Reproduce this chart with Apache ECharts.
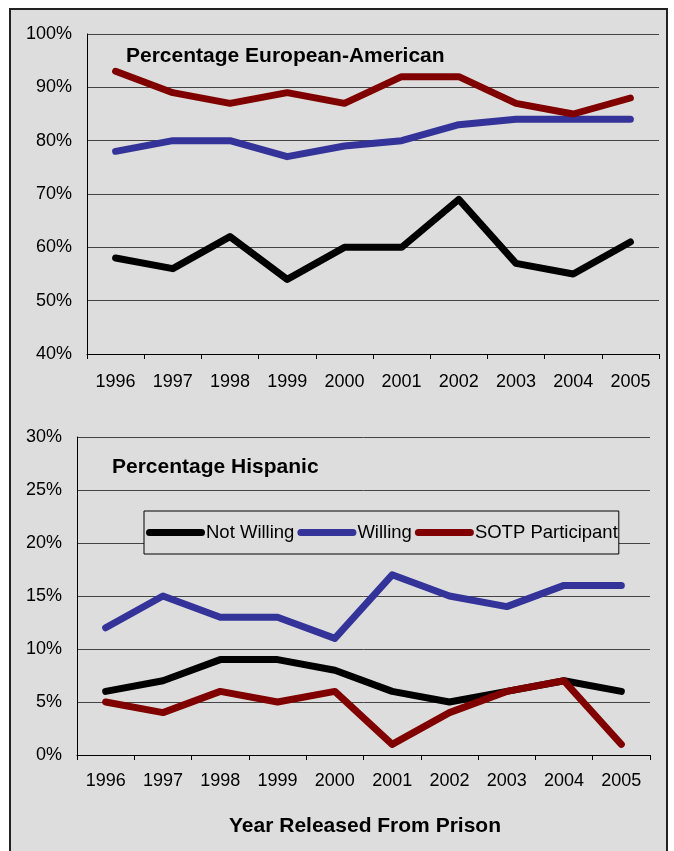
<!DOCTYPE html>
<html>
<head>
<meta charset="utf-8">
<script src="https://cdn.jsdelivr.net/npm/echarts@6/dist/echarts.min.js"></script>
<style>
  html, body { margin: 0; padding: 0; background: #ffffff; }
  #chart { width: 674px; height: 851px; }
</style>
</head>
<body>
<div id="chart"></div>
<script>
// Release years shared by both panels
const years = ['1996', '1997', '1998', '1999', '2000', '2001', '2002', '2003', '2004', '2005'];

// Percentage European-American, by group
const euroNotWilling = [58, 56, 62, 54, 60, 60, 69, 57, 55, 61];
const euroWilling    = [78, 80, 80, 77, 79, 80, 83, 84, 84, 84];
const euroSotp       = [93, 89, 87, 89, 87, 92, 92, 87, 85, 88];

// Percentage Hispanic, by group
const hispNotWilling = [6, 7, 9, 9, 8, 6, 5, 6, 7, 6];
const hispWilling    = [12, 15, 13, 13, 11, 17, 15, 14, 16, 16];
const hispSotp       = [5, 4, 6, 5, 6, 1, 4, 6, 7, 1];

const groupNames = ['Not Willing', 'Willing', 'SOTP Participant'];
const groupColors = ['#000000', '#333399', '#800000'];

const FONT = 'Liberation Sans, Arial, sans-serif';

const chart = echarts.init(document.getElementById('chart'), null, { renderer: 'canvas' });

function xAxisFor(gridIndex, margin) {
  return {
    type: 'category',
    gridIndex: gridIndex,
    data: years,
    boundaryGap: true,
    axisLine: { show: true, lineStyle: { color: '#000', width: 1 } },
    axisTick: { show: true, alignWithLabel: false, length: 5, lineStyle: { color: '#000' } },
    axisLabel: { color: '#000', fontFamily: FONT, fontSize: 18, margin: margin },
    splitLine: { show: false }
  };
}

function yAxisFor(gridIndex, min, max, interval) {
  return {
    type: 'value',
    gridIndex: gridIndex,
    min: min, max: max, interval: interval,
    axisLine: { show: true, lineStyle: { color: '#000', width: 1 } },
    axisTick: { show: false },
    axisLabel: { color: '#000', fontFamily: FONT, fontSize: 18, margin: 15, formatter: '{value}%' },
    splitLine: { show: true, lineStyle: { color: '#444', width: 1 } }
  };
}

function lineSeries(name, data, idx, gridIdx) {
  return {
    name: name,
    type: 'line',
    xAxisIndex: gridIdx,
    yAxisIndex: gridIdx,
    data: data,
    symbol: 'none',
    color: groupColors[idx],
    lineStyle: { width: 7, color: groupColors[idx], cap: 'round', join: 'round' },
    z: 3
  };
}

const pillIcon = 'path://M3.5,0 H55.5 A3.5,3.5 0 0 1 55.5,7 H3.5 A3.5,3.5 0 0 1 3.5,0 Z';

const option = {
  animation: false,
  backgroundColor: '#ffffff',
  graphic: [{
    type: 'rect',
    z: -10,
    shape: { x: 10, y: 9, width: 657, height: 860 },
    style: { fill: '#dddddd', stroke: '#222', lineWidth: 2 }
  }],
  title: [
    { text: 'Percentage European-American', left: 121, top: 41,
      textStyle: { fontFamily: FONT, fontSize: 21, fontWeight: 'bold', color: '#000' } },
    { text: 'Percentage Hispanic', left: 107, top: 452,
      textStyle: { fontFamily: FONT, fontSize: 21, fontWeight: 'bold', color: '#000' } },
    { text: 'Year Released From Prison', left: 360, textAlign: 'center', top: 811,
      textStyle: { fontFamily: FONT, fontSize: 21, fontWeight: 'bold', color: '#000' } }
  ],
  legend: {
    data: groupNames,
    left: 144, top: 511,
    icon: pillIcon,
    itemWidth: 59, itemHeight: 7,
    itemGap: 3,
    padding: [12, 1, 12, 2],
    backgroundColor: '#dddddd',
    borderColor: '#000', borderWidth: 1,
    textStyle: { fontFamily: FONT, fontSize: 18.5, color: '#000', padding: [0, 0, 0, -4] },
    selectedMode: false
  },
  grid: [
    { left: 87, top: 34, width: 572, height: 320 },
    { left: 77, top: 437, width: 573, height: 318 }
  ],
  xAxis: [xAxisFor(0, 19), xAxisFor(1, 17)],
  yAxis: [yAxisFor(0, 40, 100, 10), yAxisFor(1, 0, 30, 5)],
  series: [
    lineSeries(groupNames[0], euroNotWilling, 0, 0),
    lineSeries(groupNames[1], euroWilling, 1, 0),
    lineSeries(groupNames[2], euroSotp, 2, 0),
    lineSeries(groupNames[0], hispNotWilling, 0, 1),
    lineSeries(groupNames[1], hispWilling, 1, 1),
    lineSeries(groupNames[2], hispSotp, 2, 1)
  ]
};

chart.setOption(option);
</script>
</body>
</html>
